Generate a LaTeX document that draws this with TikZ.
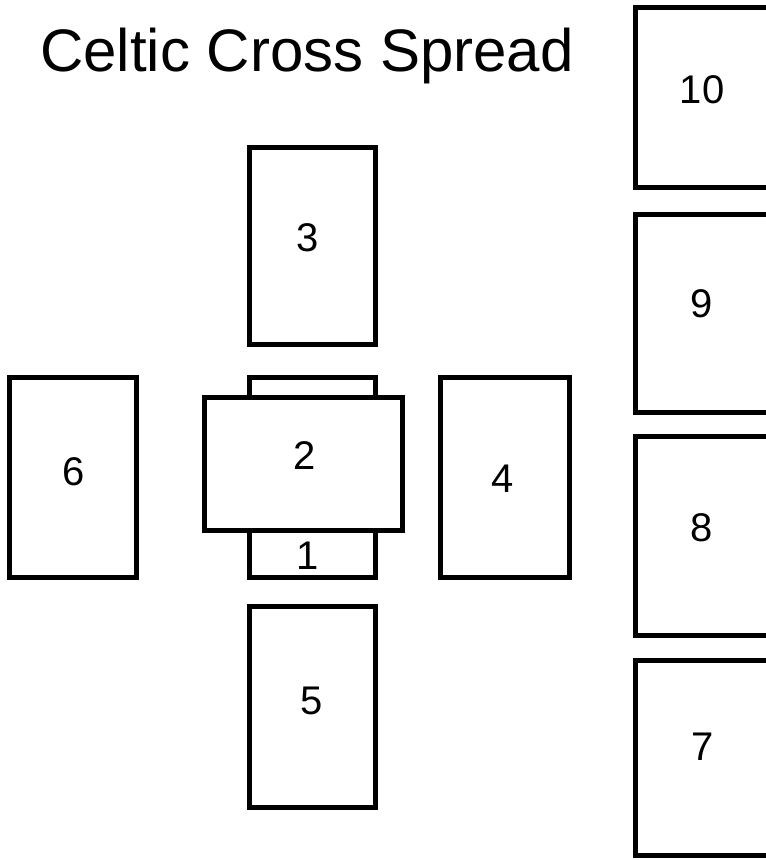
\documentclass[tikz,border=0pt]{standalone}
\usepackage{fontspec}
\setmainfont{Liberation Sans}
\usetikzlibrary{positioning}

\begin{document}
\begin{tikzpicture}[x=1pt,y=-1pt,
        card/.style={rectangle,draw,line width=5pt,fill=white,inner sep=0pt},
        upright/.style={card,minimum width=126pt,minimum height=200pt},
        sidecard/.style={card,minimum width=135pt},
        num/.style={inner sep=0pt,font=\fontsize{40}{40}\selectfont}]
        \useasboundingbox (0,0) rectangle (766,860);
        \clip (0,0) rectangle (766,860);

        % title
        \node [anchor=base west,inner sep=0pt,font=\fontsize{60}{60}\selectfont] (title) at (40,71) {Celtic Cross Spread};

        % the cross
        \node [upright] (c1) at (312.5,477.5) {};
        \node [card,minimum width=198pt,minimum height=133pt] (c2) at (303.5,464) {};
        \node [upright,minimum height=197pt] (c3) at (312.5,246) {};
        \node [upright,minimum width=129pt] (c4) at (505,477.5) {};
        \node [upright,minimum height=201pt] (c5) at (312.5,707) {};
        \node [upright,minimum width=127pt] (c6) at (73,477.5) {};

        % the staff
        \node [sidecard,minimum height=195pt] (c7) at (703,758) {};
        \node [sidecard,minimum height=199pt] (c8) at (703,536) {};
        \node [sidecard,minimum height=198pt] (c9) at (703,313.5) {};
        \node [sidecard,minimum height=180pt] (c10) at (703,97.5) {};

        \node [num] (n1) at (308,556) {1};
        \node [num] (n2) at (305,456) {2};
        \node [num] (n3) at (308,238) {3};
        \node [num] (n4) at (503,479) {4};
        \node [num] (n5) at (312,701) {5};
        \node [num] (n6) at (74,472) {6};
        \node [num] (n7) at (703,747) {7};
        \node [num] (n8) at (702,528) {8};
        \node [num] (n9) at (702,304) {9};
        \node [num] (n10) at (702,90) {10};
    \end{tikzpicture}
\end{document}
